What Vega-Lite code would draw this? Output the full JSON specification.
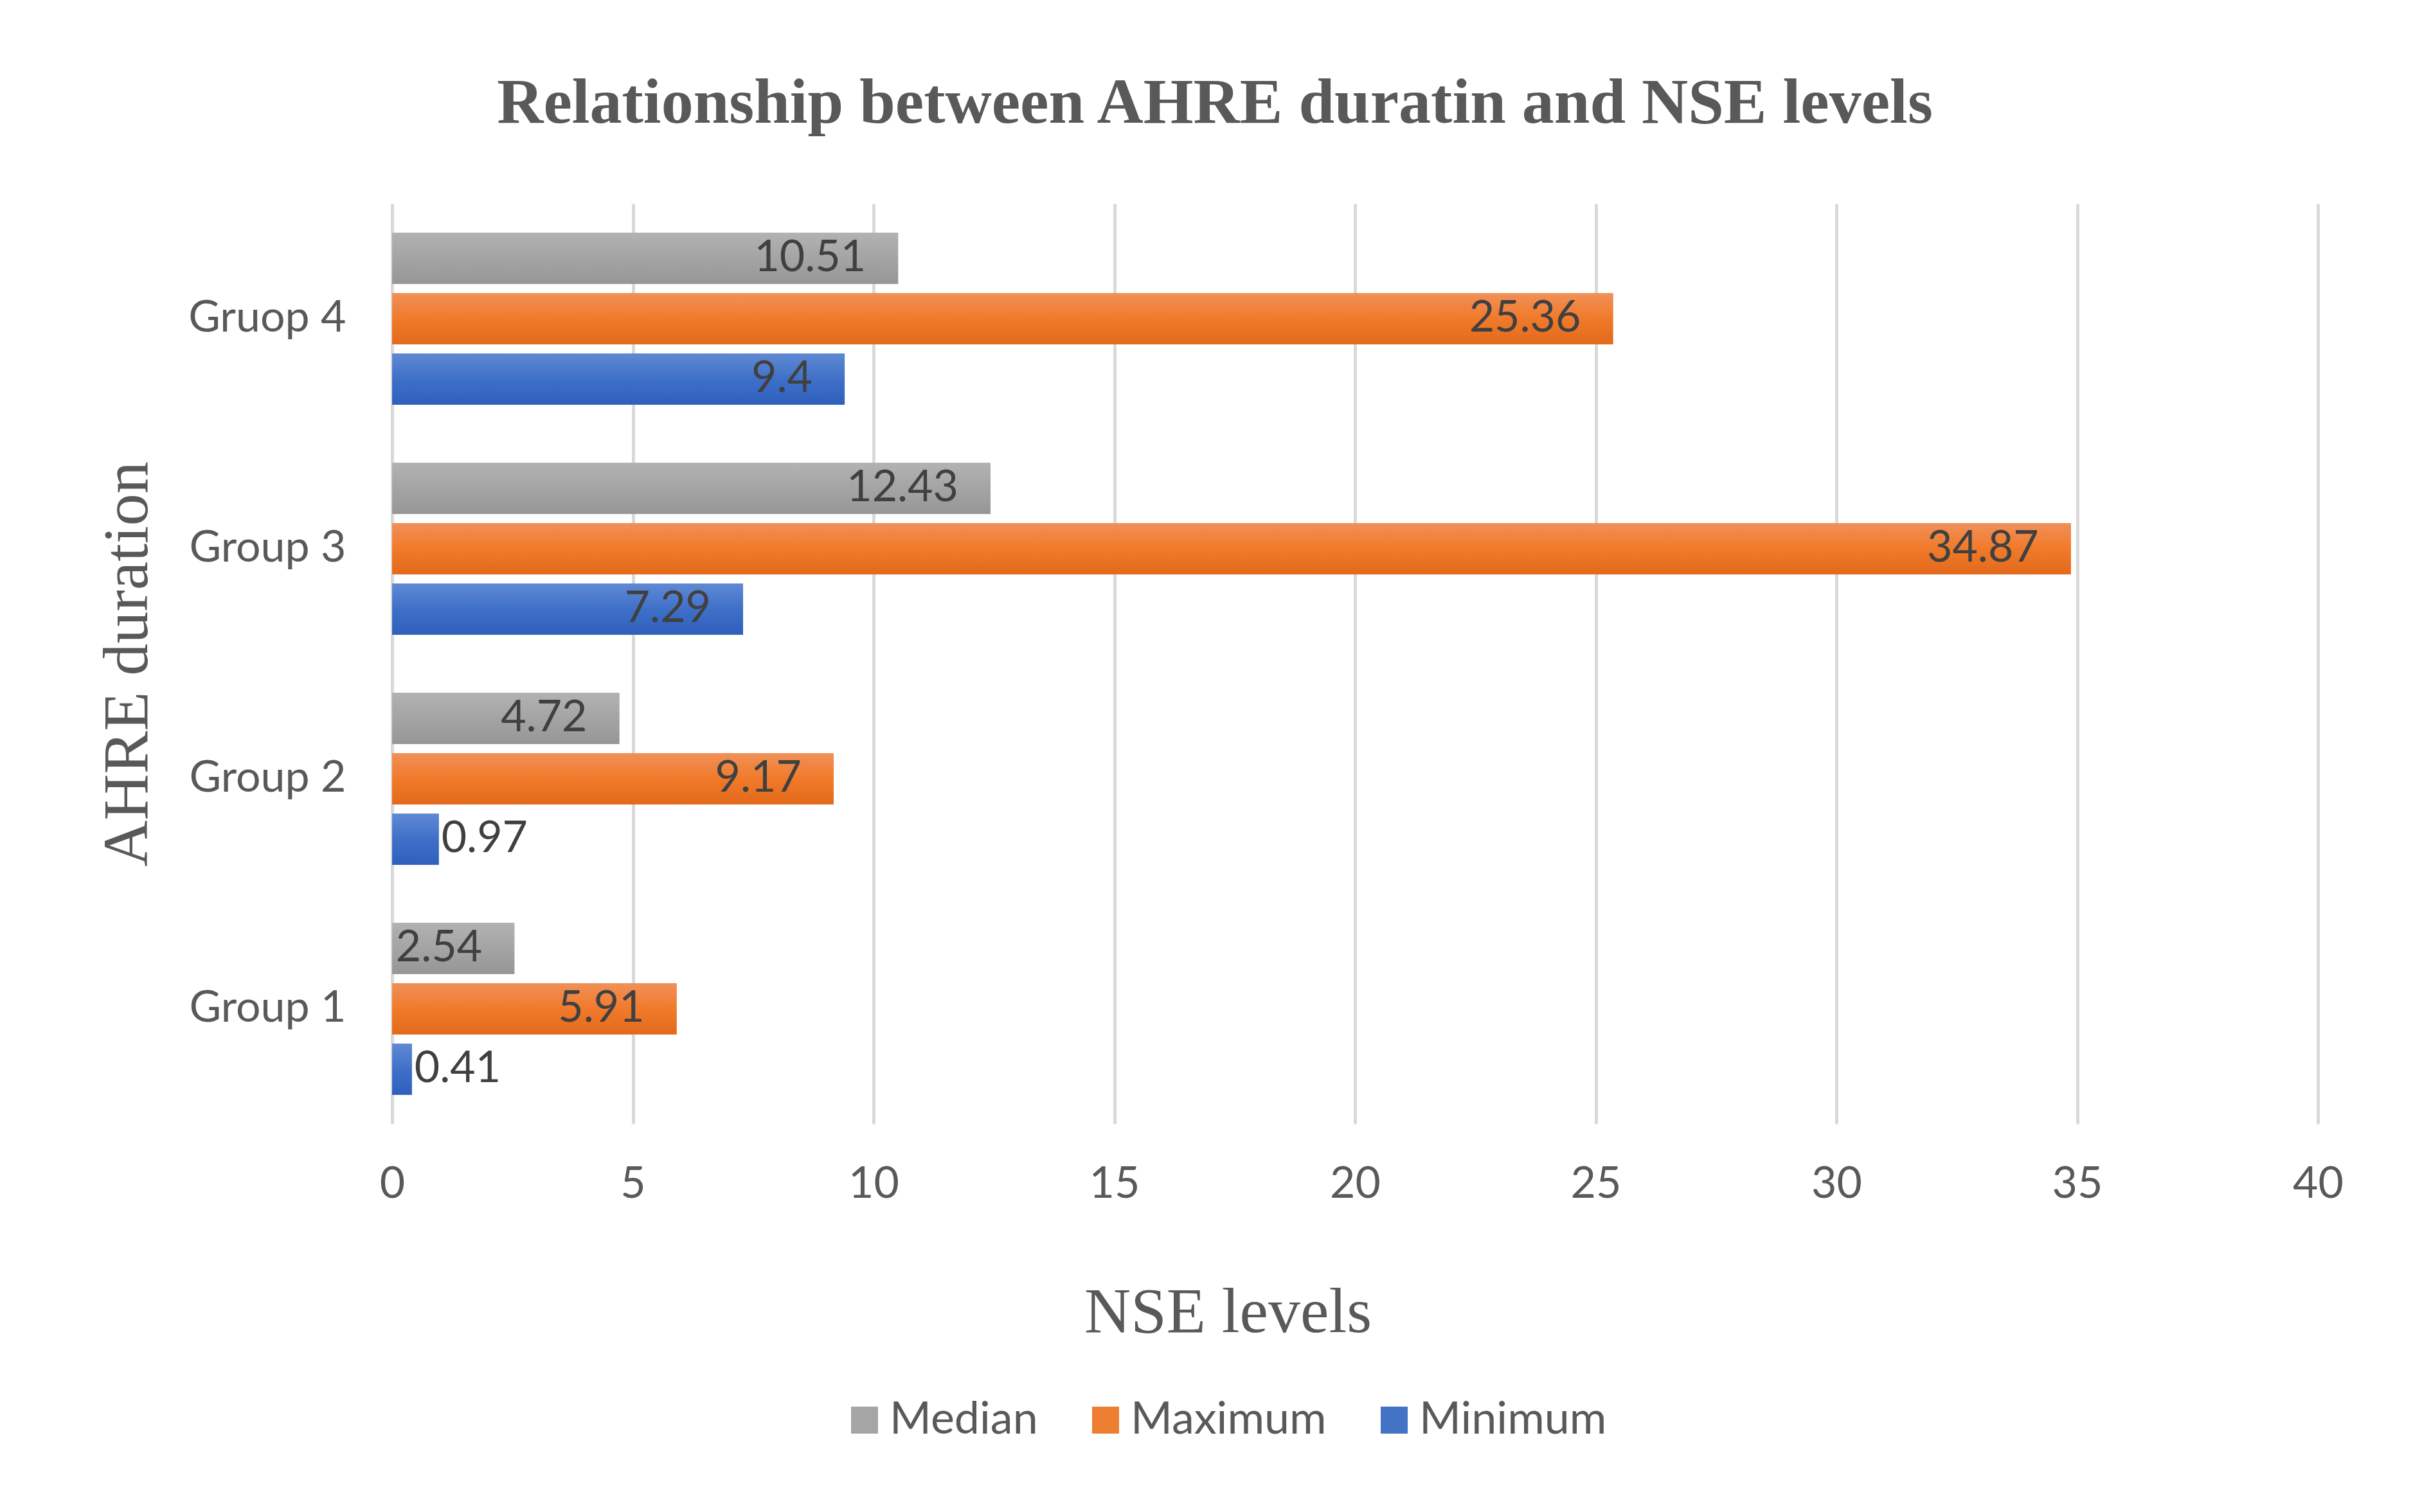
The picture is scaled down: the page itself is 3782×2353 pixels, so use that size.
{
  "$schema": "https://vega.github.io/schema/vega-lite/v6.json",
  "width": 2996,
  "height": 1432,
  "autosize": {"type": "none"},
  "padding": {"left": 610, "top": 317, "right": 176, "bottom": 604},
  "background": "white",
  "title": {
    "text": "Relationship between AHRE duratin and NSE levels",
    "font": "Liberation Serif",
    "fontSize": 100,
    "fontWeight": "bold",
    "color": "#595959",
    "anchor": "middle",
    "dx": -218,
    "offset": 26,
    "baseline": "alphabetic"
  },
  "data": {
    "values": [
      {"group": "Gruop 4", "series": "Median", "value": 10.51},
      {"group": "Gruop 4", "series": "Maximum", "value": 25.36},
      {"group": "Gruop 4", "series": "Minimum", "value": 9.4},
      {"group": "Group 3", "series": "Median", "value": 12.43},
      {"group": "Group 3", "series": "Maximum", "value": 34.87},
      {"group": "Group 3", "series": "Minimum", "value": 7.29},
      {"group": "Group 2", "series": "Median", "value": 4.72},
      {"group": "Group 2", "series": "Maximum", "value": 9.17},
      {"group": "Group 2", "series": "Minimum", "value": 0.97},
      {"group": "Group 1", "series": "Median", "value": 2.54},
      {"group": "Group 1", "series": "Maximum", "value": 5.91},
      {"group": "Group 1", "series": "Minimum", "value": 0.41}
    ]
  },
  "encoding": {
    "y": {
      "field": "group",
      "type": "nominal",
      "sort": ["Gruop 4", "Group 3", "Group 2", "Group 1"],
      "scale": {"paddingInner": 0.253, "paddingOuter": 0.1265},
      "axis": {
        "title": "AHRE duration",
        "titleFont": "Liberation Serif",
        "titleFontSize": 100,
        "titleFontWeight": "normal",
        "titleColor": "#595959",
        "titleX": -412,
        "titleY": 716,
        "titleAngle": -90,
        "titleAlign": "center",
        "titleBaseline": "middle",
        "labelFont": "Lato",
        "labelFontSize": 68,
        "labelColor": "#595959",
        "labelPadding": 72,
        "labelLimit": 0,
        "ticks": false,
        "domain": false,
        "grid": false
      }
    },
    "yOffset": {
      "field": "series",
      "sort": ["Median", "Maximum", "Minimum"],
      "scale": {"paddingInner": 0.154, "paddingOuter": 0}
    },
    "x": {
      "field": "value",
      "type": "quantitative",
      "scale": {"domain": [0, 40], "nice": false},
      "axis": {
        "values": [0, 5, 10, 15, 20, 25, 30, 35, 40],
        "title": "NSE levels",
        "titleFont": "Liberation Serif",
        "titleFontSize": 100,
        "titleFontWeight": "normal",
        "titleColor": "#595959",
        "titleX": 1300,
        "titleY": 293,
        "titleAlign": "center",
        "titleBaseline": "middle",
        "labelFont": "Lato",
        "labelFontSize": 68,
        "labelColor": "#595959",
        "labelPadding": 60,
        "labelFlush": false,
        "labelOverlap": false,
        "ticks": false,
        "domain": false,
        "grid": true,
        "gridColor": "#d9d9d9",
        "gridWidth": 5
      }
    }
  },
  "layer": [
    {
      "mark": {"type": "bar"},
      "encoding": {
        "color": {
          "field": "series",
          "type": "nominal",
          "sort": ["Median", "Maximum", "Minimum"],
          "scale": {
            "domain": ["Median", "Maximum", "Minimum"],
            "range": ["#a5a5a5", "#ed7d31", "#4472c4"]
          },
          "legend": {
            "orient": "none",
            "legendX": 700,
            "legendY": 1858,
            "direction": "horizontal",
            "title": null,
            "symbolType": "square",
            "symbolSize": 1764,
            "symbolStrokeWidth": 0,
            "symbolOpacity": 1,
            "labelFont": "Lato",
            "labelFontSize": 70,
            "labelColor": "#595959",
            "labelOffset": 4,
            "labelLimit": 0,
            "columnPadding": 70
          }
        }
      }
    },
    {
      "transform": [{"filter": "datum.series === 'Median'"}],
      "mark": {"type": "bar", "fill": {"gradient": "linear", "x1": 0, "y1": 0, "x2": 0, "y2": 1, "stops": [{"offset": 0, "color": "#b2b2b2"}, {"offset": 1, "color": "#969696"}]}}
    },
    {
      "transform": [{"filter": "datum.series === 'Maximum'"}],
      "mark": {"type": "bar", "fill": {"gradient": "linear", "x1": 0, "y1": 0, "x2": 0, "y2": 1, "stops": [{"offset": 0, "color": "#f19058"}, {"offset": 0.5, "color": "#f07a2a"}, {"offset": 1, "color": "#e3691b"}]}}
    },
    {
      "transform": [{"filter": "datum.series === 'Minimum'"}],
      "mark": {"type": "bar", "fill": {"gradient": "linear", "x1": 0, "y1": 0, "x2": 0, "y2": 1, "stops": [{"offset": 0, "color": "#5f89d4"}, {"offset": 0.5, "color": "#3f70c8"}, {"offset": 1, "color": "#2e5fbc"}]}}
    },
    {
      "transform": [{"filter": "datum.value >= 2"}],
      "mark": {"type": "text", "align": "right", "baseline": "middle", "dx": -50, "font": "Lato", "fontSize": 68, "color": "#404040"},
      "encoding": {"text": {"field": "value", "type": "quantitative", "format": ".2~f"}}
    },
    {
      "transform": [{"filter": "datum.value < 2"}],
      "mark": {"type": "text", "align": "left", "baseline": "middle", "dx": 4, "font": "Lato", "fontSize": 68, "color": "#404040"},
      "encoding": {"text": {"field": "value", "type": "quantitative", "format": ".2~f"}}
    }
  ],
  "config": {"view": {"stroke": null}}
}
